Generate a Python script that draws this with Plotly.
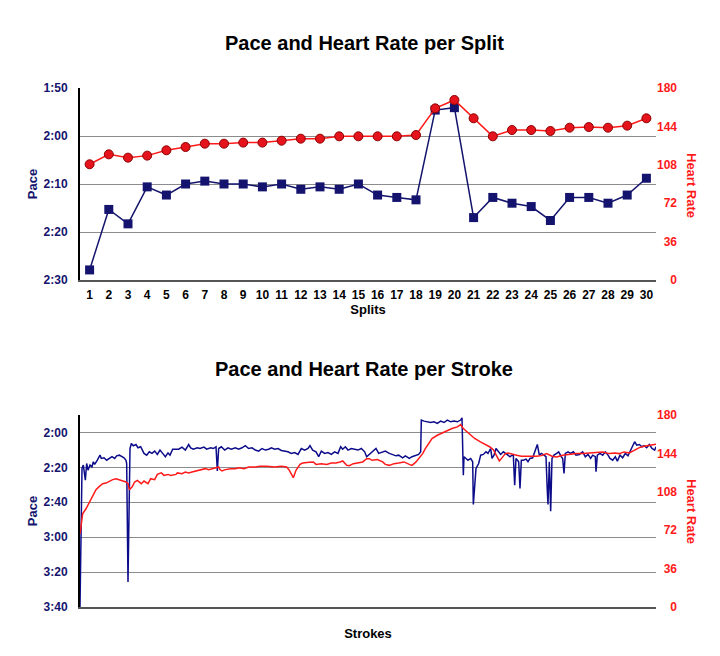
import plotly.graph_objects as go

# per split
splits = list(range(1, 31))
split_pace = [147.9, 135.3, 138.3, 130.6, 132.3, 130.0, 129.4, 130.0, 130.0, 130.6,
              130.0, 131.1, 130.6, 131.1, 130.0, 132.3, 132.8, 133.3, 114.6, 114.1,
              137.0, 132.8, 134.0, 134.7, 137.6, 132.8, 132.8, 134.0, 132.3, 128.8]
split_hr = [108.5, 117.8, 114.7, 116.6, 121.6, 124.7, 127.8, 127.8, 128.8, 128.8,
            130.6, 132.5, 132.5, 134.7, 134.7, 134.7, 134.7, 135.9, 160.9, 168.8,
            151.6, 134.7, 140.6, 140.6, 139.7, 142.8, 143.4, 142.8, 144.7, 151.6]

# per stroke (pace in seconds / 500m)
stroke_pace_x = [0, 3, 5, 8, 10, 12, 15, 18, 20, 22, 26, 30, 32, 36, 40, 44, 48, 52, 55, 59,
                 63, 66, 69, 70, 72, 75, 77, 80, 84, 87, 91, 96, 100, 104, 108, 112, 116, 120, 124, 128,
                 132, 135, 139, 144,
                 148, 153, 158, 163, 166, 170, 176, 180, 186, 190, 196, 200, 204, 206, 208, 212, 217, 222, 227, 233,
                 238, 243, 248, 253, 258, 263, 268, 273, 278, 283,
                 287, 292, 297, 302, 307, 312, 317, 322, 327, 332, 337, 342, 345, 349, 354, 358, 362, 367, 372, 377,
                 382, 387, 391, 394, 398, 402, 407, 412, 417, 422, 427,
                 430, 434, 438, 444, 448, 454, 458, 464, 468, 474, 478, 484, 488, 494, 498, 504, 508, 511, 512, 516,
                 521, 526, 531, 536, 541, 546, 551, 556, 561, 566, 571, 573, 575,
                 576, 579, 582, 586, 589, 590, 592, 594, 598, 601, 605, 609, 612, 616, 618, 621, 624, 628, 631, 635,
                 639, 642, 645, 648, 650, 652, 654, 656, 658, 660, 662, 665, 669, 672, 675, 679, 682, 686, 689, 692,
                 696, 699, 701, 702, 704, 706, 708, 711, 715,
                 718, 722, 724, 726, 728, 732, 736, 740, 744, 749, 754, 758, 762, 766, 769, 773, 774, 776, 780, 784,
                 788, 792, 795, 799, 803, 806, 810, 814, 818, 822, 825, 828, 832, 835, 839, 843, 846, 850, 854, 858,
                 862, 864]
stroke_pace = [220, 140.6, 138.7, 147.3, 137.8, 141.6, 138.7, 139.7, 136.8, 138.3,
               135.9, 133.0, 134.9, 134.5, 135.9, 134.9, 133.9, 134.9, 133.4, 133.0,
               133.9, 134.5, 135.9, 137.8, 205.6, 129.2, 126.3, 127.6, 126.9, 128.8,
               128.2, 132.0, 133.0, 131.1, 132.0, 130.7, 132.6, 130.1, 132.0, 133.9,
               131.7, 133.0, 129.6, 129.6,
               129.6, 128.4, 130.1, 126.9, 128.8, 129.6, 128.8, 129.2, 128.4, 129.6,
               128.8, 129.2, 128.2, 142.0, 129.2, 128.2, 130.1, 128.8, 129.6, 128.8,
               129.6, 128.8, 127.6, 129.2, 128.8, 130.1, 130.7, 129.2, 130.1, 129.6,
               128.8, 129.6, 129.2, 130.3, 130.7, 131.1, 132.0, 131.5, 132.6, 129.2,
               130.1, 129.2, 127.6, 130.1, 131.1, 133.9, 130.7, 132.0, 131.5, 132.6,
               131.1, 132.0, 128.2, 129.6, 128.2, 130.1, 129.2, 129.6, 130.1, 129.2, 131.1,
               133.9, 132.6, 131.5, 129.2, 132.0, 131.1, 130.7, 132.0, 132.6, 133.4,
               133.0, 134.5, 133.4, 134.9, 133.9, 133.0, 132.6, 131.1, 112.9, 113.5,
               113.9, 114.3, 113.9, 114.8, 113.5, 114.3, 112.9, 113.9, 113.5, 113.9,
               112.9, 111.6, 144.5,
               133.9, 134.9, 135.9, 134.9, 136.8, 161.3, 152.1, 140.6, 137.8, 133.0,
               132.6, 131.1, 132.0, 129.2, 134.9, 133.0, 129.2, 131.1, 132.6, 131.1,
               132.0, 133.0, 133.9, 133.0, 133.0, 150.2, 134.9, 135.9, 136.8, 152.1,
               135.9, 135.9, 135.3, 136.8, 134.9, 134.5, 131.1, 126.9, 133.0, 132.0,
               133.0, 133.9, 154.0, 161.3, 136.8, 165.1, 134.9, 133.0, 132.0,
               131.1, 133.9, 134.9, 143.5, 132.0, 131.1, 132.0, 131.1, 133.0, 132.6,
               131.1, 133.9, 132.6, 134.9, 133.0, 133.9, 142.5, 133.0, 132.0, 133.0,
               131.1, 133.0, 134.9, 135.9, 133.9, 136.4, 133.0, 134.5, 132.0, 133.4,
               131.1, 129.2, 125.3, 127.3, 126.9, 128.2, 127.6, 128.8, 126.9, 129.2,
               130.1, 128.2]

stroke_hr_x = [0, 2, 4, 9, 14, 19, 24, 29, 34, 39, 44, 49, 54, 59, 64, 69, 72, 74, 78, 82,
               86, 92, 96, 102, 106, 112, 116, 122, 126, 132, 136, 144,
               146, 153, 158, 163, 168, 176, 183, 188, 193, 198, 206, 208, 210, 213, 218, 226, 233, 238,
               246, 253, 263, 270, 280,
               292, 302, 310, 314, 320, 324, 330, 334, 340, 344, 350, 354, 362, 370, 377, 384, 390, 394,
               400, 404, 410, 417, 424,
               430, 434, 438, 446, 454, 458, 464, 471, 478, 486, 494, 498, 504, 508, 514, 518, 524, 528,
               536, 544, 551, 558, 566, 571,
               575, 580, 585, 592, 600, 608, 615, 620, 625, 629, 632, 638, 642, 648, 655, 662, 670, 678,
               685, 692, 700, 708, 715,
               724, 734, 744, 754, 764, 774, 784, 794, 802, 809, 816, 824, 832, 839, 846, 854, 864]
stroke_hr = [68.6, 81.1, 87.4, 92.1, 98.4, 104.6, 110.0, 113.1, 115.6, 116.2,
             118.1, 119.4, 120.3, 119.4, 118.1, 117.2, 115.6, 110.0, 112.5, 117.2,
             118.7, 115.6, 118.1, 115.6, 120.3, 119.4, 124.3, 125.7, 123.4, 124.3, 123.4, 124.3,
             125.7, 125.0, 126.6, 125.7, 126.6, 128.1, 128.8, 129.7, 128.8, 129.7,
             130.6, 131.3, 128.8, 127.5, 128.8, 129.7, 129.7, 130.6, 129.7, 131.3,
             131.3, 131.9, 131.9,
             131.3, 131.9, 131.3, 128.1, 121.2, 128.1, 133.7, 135.0, 135.0, 135.6,
             136.0, 133.7, 134.4, 133.7, 135.0, 135.0, 136.0, 136.9, 132.8, 132.5,
             134.4, 135.0, 136.0,
             139.1, 139.1, 137.5, 138.2, 136.0, 133.7, 132.8, 134.4, 135.0, 136.0,
             133.7, 132.8, 136.0, 139.1, 143.8, 148.5, 153.8, 157.9, 161.0, 163.2,
             165.7, 167.3, 168.9, 171.0,
             167.3, 164.5, 161.0, 158.0, 155.0, 152.5, 150.0, 147.5, 141.0, 137.0,
             139.1, 143.8, 144.4, 143.1, 142.2, 141.3, 141.3, 140.7, 141.3, 141.9,
             143.8, 141.3, 140.7,
             142.2, 143.1, 143.8, 143.8, 144.4, 144.4, 145.4, 143.8, 144.4, 143.8,
             145.4, 144.4, 146.9, 149.4, 150.7, 151.6, 152.5]

split_pace_ticks = [110, 120, 130, 140, 150]
stroke_pace_ticks = [120, 140, 160, 180, 200, 220]
hr_ticks = [0, 36, 72, 108, 144, 180]


def mmss(sec):
    return f"{sec // 60}:{sec % 60:02d}"


# the page body has an 8px margin, so the figure is a bit smaller than the window
OFF = 8
W, H = 720 - OFF, 656 - OFF


def px(x):
    return (x - OFF) / W


def py(y):
    return (H - (y - OFF)) / H


NAVY = "#14146e"
RED = "#ff1a1a"
FONT = "Liberation Sans"
GRID = "#8c8c8c"

fig = go.Figure()
fig.add_trace(go.Scatter(x=splits, y=split_pace, xaxis="x", yaxis="y", mode="lines+markers",
                         line=dict(color=NAVY, width=1.5),
                         marker=dict(symbol="square", size=9, color=NAVY)))
fig.add_trace(go.Scatter(x=splits, y=split_hr, xaxis="x", yaxis="y2", mode="lines+markers",
                         line=dict(color=RED, width=1.5),
                         marker=dict(symbol="circle", size=9, color="#e5141c",
                                     line=dict(color="#8e0000", width=1))))
fig.add_trace(go.Scatter(x=stroke_pace_x, y=stroke_pace, xaxis="x2", yaxis="y3", mode="lines",
                         line=dict(color="#0c0c8a", width=1.5)))
fig.add_trace(go.Scatter(x=stroke_hr_x, y=stroke_hr, xaxis="x2", yaxis="y4", mode="lines",
                         line=dict(color=RED, width=1.5)))

x_dom = [px(80), px(656)]
top_dom = [py(280), py(88)]
bot_dom = [py(607), py(415)]

left_font = dict(family=FONT, size=12, color=NAVY, weight="bold")
right_font = dict(family=FONT, size=12, color=RED, weight="bold")
label_font = dict(family=FONT, size=13, color="black", weight="bold")
pace_font = dict(family=FONT, size=13, color=NAVY, weight="bold")
fig_space = "\u2007"
hr_text = [fig_space * (3 - len(str(v))) + str(v) for v in hr_ticks]

fig.update_layout(
    width=W, height=H,
    margin=dict(l=0, r=0, t=0, b=0, autoexpand=False),
    paper_bgcolor="white", plot_bgcolor="white",
    showlegend=False,
    xaxis=dict(domain=x_dom, anchor="y", range=[0.5, 30.5], tickvals=splits, automargin=False,
               showgrid=False, zeroline=False, showline=True, linecolor="#555555", linewidth=2,
               tickfont=dict(family=FONT, size=12, color="black", weight="bold"),
               ticklabelstandoff=3,
               title=dict(text="Splits", standoff=0, font=label_font)),
    yaxis=dict(domain=top_dom, anchor="x", range=[150, 110], tickvals=split_pace_ticks,
               ticktext=[mmss(v) for v in split_pace_ticks], automargin=False,
               showgrid=True, gridcolor=GRID, zeroline=False,
               showline=True, linecolor="black", linewidth=2,
               tickfont=left_font, ticklabelstandoff=8,
               title=dict(text="Pace", standoff=3, font=pace_font)),
    yaxis2=dict(overlaying="y", anchor="x", side="right", range=[0, 180], tickvals=hr_ticks,
                ticktext=hr_text, automargin=False,
                showgrid=False, zeroline=False, tickfont=right_font, ticklabelstandoff=0),
    xaxis2=dict(domain=x_dom, anchor="y3", range=[0, 864], showticklabels=False, automargin=False,
                showgrid=False, zeroline=False, showline=True, linecolor="#555555", linewidth=2,
                title=dict(text="Strokes", standoff=21, font=label_font)),
    yaxis3=dict(domain=bot_dom, anchor="x2", range=[220, 110], tickvals=stroke_pace_ticks,
                ticktext=[mmss(v) for v in stroke_pace_ticks], automargin=False,
                showgrid=True, gridcolor=GRID, zeroline=False,
                showline=True, linecolor="black", linewidth=2,
                tickfont=left_font, ticklabelstandoff=8,
                title=dict(text="Pace", standoff=3, font=pace_font)),
    yaxis4=dict(overlaying="y3", anchor="x2", side="right", range=[0, 180], tickvals=hr_ticks,
                ticktext=hr_text, automargin=False,
                showgrid=False, zeroline=False, tickfont=right_font, ticklabelstandoff=0),
)

title_font = dict(family=FONT, size=20, color="black", weight="bold")
hr_font = dict(family=FONT, size=13, color=RED, weight="bold")
fig.add_annotation(text="Pace and Heart Rate per Split", xref="paper", yref="paper",
                   x=px(364), y=py(43), xanchor="center", yanchor="middle",
                   showarrow=False, font=title_font)
fig.add_annotation(text="Pace and Heart Rate per Stroke", xref="paper", yref="paper",
                   x=px(364), y=py(369), xanchor="center", yanchor="middle",
                   showarrow=False, font=title_font)
fig.add_annotation(text="Heart Rate", xref="paper", yref="paper", textangle=90,
                   x=px(692), y=py(185), xanchor="center", yanchor="middle",
                   showarrow=False, font=hr_font)
fig.add_annotation(text="Heart Rate", xref="paper", yref="paper", textangle=90,
                   x=px(692), y=py(511), xanchor="center", yanchor="middle",
                   showarrow=False, font=hr_font)

fig.write_html("out.html")
